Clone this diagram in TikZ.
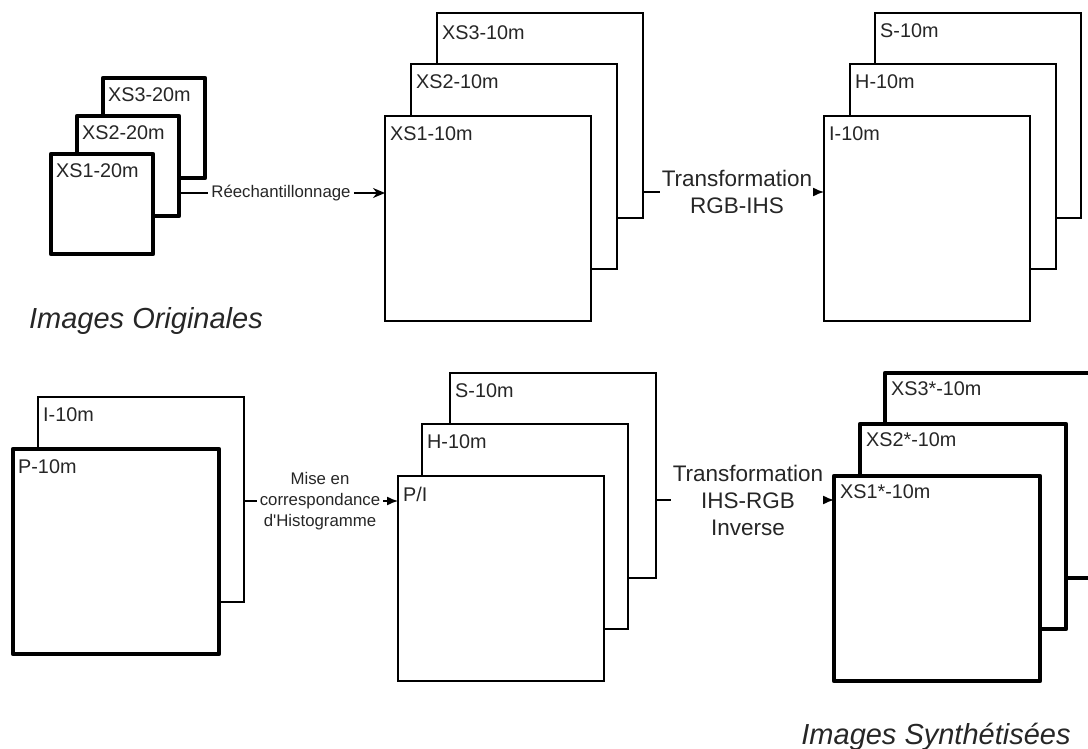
\documentclass[tikz,border=0pt]{standalone}
\usepackage{fontspec}
\setmainfont{Liberation Sans}
\newfontfamily\nomapfont{Liberation Sans}
\usetikzlibrary{arrows.meta}
\begin{document}
\begin{tikzpicture}[x=1pt,y=-1pt,
  thinbox/.style={draw=black, line width=1.4pt, fill=white, minimum width=206pt, minimum height=205pt, anchor=north west, inner sep=0pt, outer sep=0pt},
  thickbox/.style={thinbox, line width=4.6pt, line join=round},
  smallbox/.style={thickbox, minimum width=102pt, minimum height=100pt},
  boxlbl/.style={anchor=west, inner sep=0pt, text=black!85, font=\fontsize{19.8}{22}\selectfont},
  smalllbl/.style={align=center, inner sep=3pt, text=black!85, font=\fontsize{16.8}{21}\selectfont},
  biglbl/.style={align=center, inner sep=2pt, text=black!85, font=\fontsize{22.5}{27}\selectfont},
  titlelbl/.style={inner sep=0pt, text=black!85, font=\fontsize{29}{32}\selectfont\itshape},
  conn/.style={line width=1.4pt},
  tipa/.style={-{Stealth[length=12pt,width=10pt]}},
  tipb/.style={-{Latex[length=11pt,width=9pt]}}
]
\useasboundingbox (0,0) rectangle (1088,749);
\clip (0,0) rectangle (1088,749);

% ---- Group 1: original images (thick, small)
\node[smallbox] (g1c) at (103,78) {};
\node[smallbox] (g1b) at (77,116) {};
\node[smallbox] (g1a) at (51,154) {};
\node[boxlbl] (t1c) at ([shift={(5,17)}]g1c.north west) {XS3-20m};
\node[boxlbl] (t1b) at ([shift={(5,17)}]g1b.north west) {XS2-20m};
\node[boxlbl] (t1a) at ([shift={(5,17)}]g1a.north west) {XS1-20m};
\node[titlelbl] (title1) at (146,321) {Images Originales};

% ---- Group 2: resampled XS (thin)
\node[thinbox] (g2c) at (437,13) {};
\node[thinbox] (g2b) at (411,64) {};
\node[thinbox] (g2a) at (385,116) {};
\node[boxlbl] (t2c) at ([shift={(5,20)}]g2c.north west) {XS3-10m};
\node[boxlbl] (t2b) at ([shift={(5,18)}]g2b.north west) {XS2-10m};
\node[boxlbl] (t2a) at ([shift={(5,18)}]g2a.north west) {XS1-10m};

% ---- Group 3: IHS (thin)
\node[thinbox] (g3c) at (875,13) {};
\node[thinbox] (g3b) at (850,64) {};
\node[thinbox] (g3a) at (824,116) {};
\node[boxlbl] (t3c) at ([shift={(5,18)}]g3c.north west) {S-10m};
\node[boxlbl] (t3b) at ([shift={(5,18)}]g3b.north west) {H-10m};
\node[boxlbl] (t3a) at ([shift={(5,18)}]g3a.north west) {I-10m};

% ---- Group 4: I and P
\node[thinbox] (g4b) at (38,397) {};
\node[thickbox] (g4a) at (13,449) {};
\node[boxlbl] (t4b) at ([shift={(5,18)}]g4b.north west) {I-10m};
\node[boxlbl] (t4a) at ([shift={(5,18)}]g4a.north west) {P-10m};

% ---- Group 5: S, H, P/I (thin)
\node[thinbox] (g5c) at (450,373) {};
\node[thinbox] (g5b) at (422,424) {};
\node[thinbox] (g5a) at (398,476) {};
\node[boxlbl] (t5c) at ([shift={(5,18)}]g5c.north west) {S-10m};
\node[boxlbl] (t5b) at ([shift={(5,18)}]g5b.north west) {H-10m};
\node[boxlbl] (t5a) at ([shift={(5,18)}]g5a.north west) {P/I};

% ---- Group 6: synthesised (thick)
\node[thickbox] (g6c) at (885,373) {};
\node[thickbox] (g6b) at (860,424) {};
\node[thickbox] (g6a) at (834,476) {};
\node[boxlbl] (t6c) at ([shift={(6,16)}]g6c.north west) {XS3*-10m};
\node[boxlbl] (t6b) at ([shift={(6,16)}]g6b.north west) {XS2*-10m};
\node[boxlbl] (t6a) at ([shift={(6,16)}]g6a.north west) {XS1*-10m};
\node[titlelbl] (title2) at (936,737) {Images Synthétisées};

% ---- Connectors
\node[smalllbl] (l1) at (281,193) {Réechantillonnage};
\draw[conn] (g1b.east |- l1.west) -- (l1.west);
\draw[conn,tipa] (l1.east) -- (g2a.west |- l1.east);

\node[biglbl] (l2) at (737,192) {Transformation\\RGB-IHS};
\draw[conn] (g2c.east |- l2.west) -- (l2.west);
\draw[conn,tipb] (l2.east) -- (g3a.west |- l2.east);

\node[smalllbl] (l4) at (320,501) {Mise en\\correspondance\\{\nomapfont d'Histogramme}};
\draw[conn] (g4b.east |- l4.west) -- (l4.west);
\draw[conn,tipb] (l4.east) -- (g5a.west |- l4.east);

\node[biglbl] (l5) at (748,500) {Transformation\\IHS-RGB\\Inverse};
\draw[conn] (g5c.east |- l5.west) -- (l5.west);
\draw[conn,tipb] (l5.east) -- (g6a.west |- l5.east);
\end{tikzpicture}
\end{document}
